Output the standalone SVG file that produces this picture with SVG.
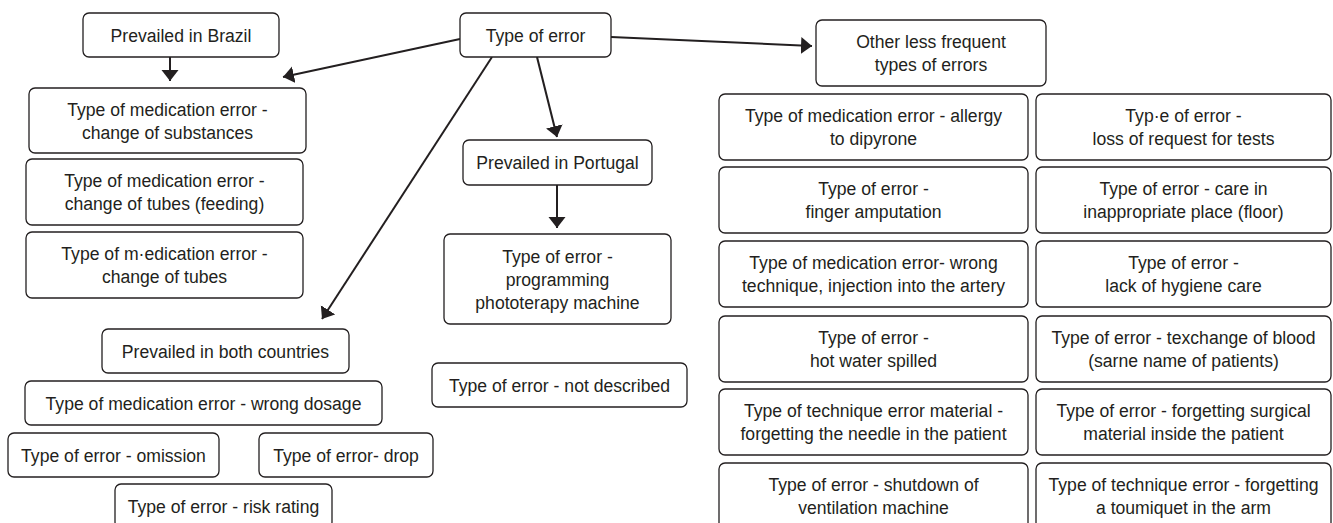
<svg xmlns="http://www.w3.org/2000/svg" width="1333" height="523" viewBox="0 0 1333 523">
<style>
.box{fill:#fff;stroke:#231f20;stroke-width:1.3}
text{font-family:"Liberation Sans",Arial,sans-serif;font-size:17.6px;fill:#231f20;text-anchor:middle}
.conn line{stroke:#231f20;stroke-width:2}
</style>
<defs>
<marker id="ah" markerUnits="userSpaceOnUse" markerWidth="12" markerHeight="18" refX="11" refY="8.5" orient="auto">
<path d="M0,0 L11,8.5 L0,17 z" fill="#231f20"/>
</marker>
</defs>
<rect width="1333" height="523" fill="#fff"/>
<g class="conn">
<line x1="460" y1="39" x2="283" y2="77" marker-end="url(#ah)"/>
<line x1="537" y1="57" x2="557" y2="137" marker-end="url(#ah)"/>
<line x1="492" y1="57" x2="322" y2="319" marker-end="url(#ah)"/>
<line x1="611" y1="37" x2="812" y2="46" marker-end="url(#ah)"/>
<line x1="170" y1="57" x2="170" y2="81" marker-end="url(#ah)"/>
<line x1="557" y1="185" x2="557" y2="228" marker-end="url(#ah)"/>
</g>
<g id="type-of-error"><rect class="box" x="460" y="13" width="151" height="44" rx="6"/><text x="535.5" y="42">Type of error</text></g>
<g id="brazil"><rect class="box" x="83" y="13" width="196" height="44" rx="6"/><text x="181" y="42">Prevailed in Brazil</text></g>
<g id="other"><rect class="box" x="816" y="20" width="230" height="66" rx="6"/><text x="931" y="48">Other less frequent</text><text x="931" y="71">types of errors</text></g>
<g id="substances"><rect class="box" x="29" y="88" width="277" height="65" rx="6"/><text x="167.5" y="115.5">Type of medication error -</text><text x="167.5" y="138.5">change of substances</text></g>
<g id="tubes-feeding"><rect class="box" x="26" y="159" width="277" height="66" rx="6"/><text x="164.5" y="187">Type of medication error -</text><text x="164.5" y="210">change of tubes (feeding)</text></g>
<g id="tubes"><rect class="box" x="26" y="232" width="277" height="66" rx="6"/><text x="164.5" y="260">Type of m·edication error -</text><text x="164.5" y="283">change of tubes</text></g>
<g id="both"><rect class="box" x="102" y="329" width="247" height="44" rx="6"/><text x="225.5" y="357.5">Prevailed in both countries</text></g>
<g id="dosage"><rect class="box" x="25" y="381" width="357" height="44" rx="6"/><text x="203.5" y="409.5">Type of medication error - wrong dosage</text></g>
<g id="omission"><rect class="box" x="8" y="433" width="211" height="44" rx="6"/><text x="113.5" y="461.5">Type of error - omission</text></g>
<g id="drop"><rect class="box" x="259" y="433" width="174" height="44" rx="6"/><text x="346" y="461.5">Type of error- drop</text></g>
<g id="risk"><rect class="box" x="115" y="484" width="217" height="44" rx="6"/><text x="223.5" y="512.5">Type of error - risk rating</text></g>
<g id="portugal"><rect class="box" x="463" y="140" width="189" height="45" rx="6"/><text x="557.5" y="169">Prevailed in Portugal</text></g>
<g id="phototerapy"><rect class="box" x="444" y="234" width="227" height="90" rx="6"/><text x="557.5" y="262.5">Type of error -</text><text x="557.5" y="285.5">programming</text><text x="557.5" y="308.5">phototerapy machine</text></g>
<g id="not-described"><rect class="box" x="432" y="363" width="255" height="44" rx="6"/><text x="559.5" y="391.5">Type of error - not described</text></g>
<g id="allergy"><rect class="box" x="719" y="94" width="309" height="66" rx="6"/><text x="873.5" y="122">Type of medication error - allergy</text><text x="873.5" y="145">to dipyrone</text></g>
<g id="loss-request"><rect class="box" x="1036" y="94" width="295" height="66" rx="6"/><text x="1183.5" y="122">Typ·e of error -</text><text x="1183.5" y="145">loss of request for tests</text></g>
<g id="finger"><rect class="box" x="719" y="167" width="309" height="66" rx="6"/><text x="873.5" y="195">Type of error -</text><text x="873.5" y="218">finger amputation</text></g>
<g id="floor"><rect class="box" x="1036" y="167" width="295" height="66" rx="6"/><text x="1183.5" y="195">Type of error - care in</text><text x="1183.5" y="218">inappropriate place (floor)</text></g>
<g id="artery"><rect class="box" x="719" y="241" width="309" height="66" rx="6"/><text x="873.5" y="269">Type of medication error- wrong</text><text x="873.5" y="292">technique, injection into the artery</text></g>
<g id="hygiene"><rect class="box" x="1036" y="241" width="295" height="66" rx="6"/><text x="1183.5" y="269">Type of error -</text><text x="1183.5" y="292">lack of hygiene care</text></g>
<g id="hot-water"><rect class="box" x="719" y="316" width="309" height="66" rx="6"/><text x="873.5" y="344">Type of error -</text><text x="873.5" y="367">hot water spilled</text></g>
<g id="blood"><rect class="box" x="1036" y="316" width="295" height="66" rx="6"/><text x="1183.5" y="344">Type of error - texchange of blood</text><text x="1183.5" y="367">(sarne name of patients)</text></g>
<g id="needle"><rect class="box" x="719" y="389" width="309" height="66" rx="6"/><text x="873.5" y="417">Type of technique error material -</text><text x="873.5" y="440">forgetting the needle in the patient</text></g>
<g id="surgical"><rect class="box" x="1036" y="389" width="295" height="66" rx="6"/><text x="1183.5" y="417">Type of error - forgetting surgical</text><text x="1183.5" y="440">material inside the patient</text></g>
<g id="ventilation"><rect class="box" x="719" y="463" width="309" height="66" rx="6"/><text x="873.5" y="491">Type of error - shutdown of</text><text x="873.5" y="514">ventilation machine</text></g>
<g id="tourniquet"><rect class="box" x="1036" y="463" width="295" height="66" rx="6"/><text x="1183.5" y="491">Type of technique error - forgetting</text><text x="1183.5" y="514">a toumiquet in the arm</text></g>
</svg>
